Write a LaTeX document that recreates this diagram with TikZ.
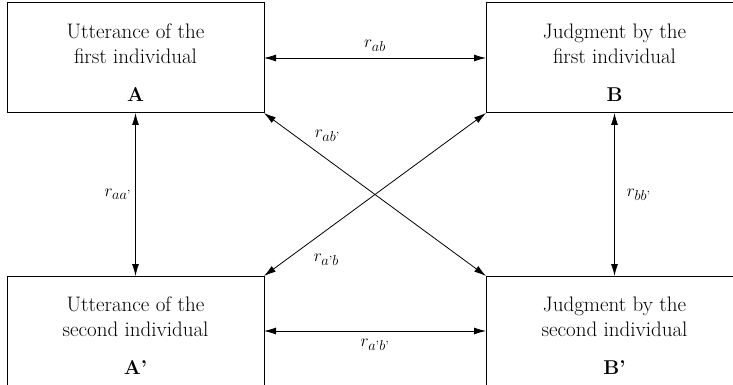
\documentclass[tikz,border=0pt]{standalone}
\usepackage{amsmath}
\usetikzlibrary{positioning,arrows.meta}

\begin{document}
\begin{tikzpicture}[node distance=163pt and 222pt]
    % Styles
    \tikzstyle{box} = [rectangle, draw=black, line width=1pt, minimum width=257pt, minimum height=110pt,
                       inner sep=0pt, outer sep=0pt]
    \tikzstyle{boxtext} = [align=center, inner sep=0pt, font=\fontsize{21}{25}\selectfont]
    \tikzstyle{letter} = [inner sep=0pt, font=\fontsize{20}{25}\selectfont\bfseries]
    \tikzstyle{rlabel} = [inner sep=0pt, font=\fontsize{19}{25}\selectfont]
    \tikzstyle{corr} = [line width=0.8pt, {Latex[length=12pt,width=7pt]}-{Latex[length=12pt,width=7pt]}]

    % Frame (boxes on the right and bottom run off the page)
    \useasboundingbox (0,0) rectangle (733pt,-385pt);
    \clip (0,0) rectangle (733pt,-385pt);

    % Boxes
    \node (A) [box] at (135.5pt,-58pt) {};
    \node (B) [box, right=of A] {};
    \node (A2) [box, below=of A] {};
    \node (B2) [box, below=of B] {};

    % Box texts
    \node (Atxt) [boxtext, below=20.4pt of A.north] {Utterance of the\\first individual};
    \node (Btxt) [boxtext, below=20.4pt of B.north] {Judgment by the\\first individual};
    \node (A2txt) [boxtext, below=20.4pt of A2.north] {Utterance of the\\second individual};
    \node (B2txt) [boxtext, below=20.4pt of B2.north] {Judgment by the\\second individual};
    \node (Alab) [letter, above=11pt of A.south] {A};
    \node (Blab) [letter, above=11pt of B.south] {B};
    \node (A2lab) [letter, above=11pt of A2.south] {A'};
    \node (B2lab) [letter, above=11pt of B2.south] {B'};

    % Arrows
    \draw [corr] (A) -- node[rlabel, above=6pt] {$r_{ab}$} (B);
    \draw [corr] (A2) -- node[rlabel, below=8pt] {$r_{a\text{'}b\text{'}}$} (B2);
    \draw [corr] (A) -- node[rlabel, left=4pt] {$r_{aa\text{'}}$} (A2);
    \draw [corr] (B) -- node[rlabel, right=12pt] {$r_{bb\text{'}}$} (B2);
    \draw [corr] (A.south east) -- node[rlabel, pos=0.2, above right=4pt and 6pt] {$r_{ab\text{'}}$} (B2.north west);
    \draw [corr] (B.south west) -- node[rlabel, pos=0.8, below right=10pt and 5pt] {$r_{a\text{'}b}$} (A2.north east);

\end{tikzpicture}
\end{document}
